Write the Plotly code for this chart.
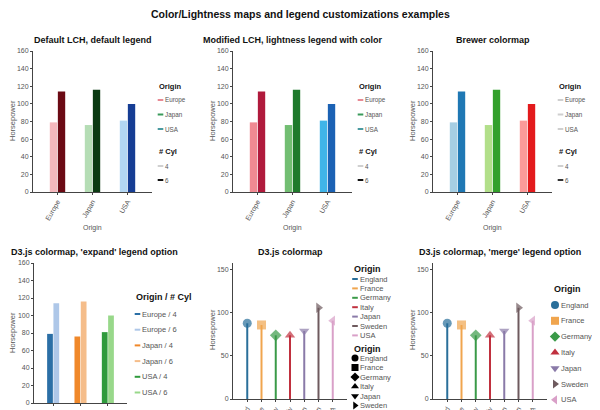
import plotly.graph_objects as go

# ---------------- data ----------------
origins = ["Europe", "Japan", "USA"]
hp_cyl4 = [79, 76, 81]
hp_cyl6 = [114, 116, 100]
cyl_labels = ["4", "6"]
countries = ["England", "France", "Germany", "Italy", "Japan", "Sweden", "USA"]
hp_country = [88, 86, 74, 74, 79, 106, 91]

panel_titles = ["Default LCH, default legend",
                "Modified LCH, lightness legend with color",
                "Brewer colormap",
                "D3.js colormap, 'expand' legend option",
                "D3.js colormap",
                "D3.js colormap, 'merge' legend option"]
main_title = "Color/Lightness maps and legend customizations examples"

# ---------------- styles ----------------
W, H = 600, 410
OFF = 8  # page body margin: screenshot px = figure px + OFF
FONT = "Liberation Sans, Arial, sans-serif"
TICK = "#555555"
AXC = "#444444"

top_cols4 = [["#f4b8bd", "#b5ddb5", "#b3d6f2"],
             ["#f08a92", "#72be72", "#3fb4e8"],
             ["#a6cee3", "#b2df8a", "#fb9a99"]]
top_cols6 = [["#6b0a14", "#0b3a12", "#163d94"],
             ["#b01a3c", "#1f7a2c", "#1b62b4"],
             ["#1f78b4", "#33a02c", "#e31a1c"]]
top_leg_origin = [["#e88a94", "#3a9a5a", "#4a9aa0"],
                  ["#e88a94", "#3a9a5a", "#4a9aa0"],
                  ["#cfcfcf", "#cfcfcf", "#cfcfcf"]]
top_leg_cyl = [["#d0d0d0", "#111111"], ["#d0d0d0", "#111111"], ["#d0d0d0", "#333333"]]

d3_cols4 = ["#2b6fa6", "#f0882a", "#2f9a3c"]
d3_cols6 = ["#aec7e8", "#f5bd8a", "#98d88a"]
country_cols = ["#2a6f9a", "#f0a54e", "#3a9a48", "#c0303e", "#8a7aa8", "#6e5a5e", "#d9a0c8"]
country_syms = ["circle", "square", "diamond", "triangle-up", "triangle-down",
                "triangle-right", "triangle-left"]


def xd(a, b):
    return [(a - OFF) / W, (b - OFF) / W]


def yd(top, bottom):
    return [1 - (bottom - OFF) / H, 1 - (top - OFF) / H]


fig = go.Figure()
layout = dict(width=W, height=H, margin=dict(l=0, r=0, t=0, b=0, pad=0, autoexpand=False),
              paper_bgcolor="white", plot_bgcolor="rgba(0,0,0,0)",
              showlegend=False, font=dict(family=FONT, color=TICK))
annotations = []


def axis_style(**kw):
    d = dict(showline=True, linecolor=AXC, linewidth=1, ticks="outside",
             ticklen=2, tickcolor=AXC, showgrid=False, zeroline=False,
             tickfont=dict(size=7, color=TICK), fixedrange=True, automargin=False)
    d.update(kw)
    return d


def txt(x, y, s, size, bold=False, color=TICK, anchor="left", angle=0):
    annotations.append(dict(x=x, y=y, xref="x7", yref="y7", text=("<b>%s</b>" % s) if bold else s,
                            showarrow=False, xanchor=anchor, yanchor="middle",
                            textangle=angle, font=dict(size=size, color=color, family=FONT)))


# main title
txt(300, 14, main_title, 10.5, bold=True, color="#111", anchor="center")

# ---------------- top row: three bar panels ----------------
for k in range(3):
    dx = 200 * k
    ax = k + 1
    xa = "x" if ax == 1 else "x%d" % ax
    ya = "y" if ax == 1 else "y%d" % ax
    fig.add_trace(go.Bar(x=origins, y=hp_cyl4, width=0.21, offset=-0.22,
                         marker=dict(color=top_cols4[k], line=dict(width=0)),
                         xaxis=xa, yaxis=ya))
    fig.add_trace(go.Bar(x=origins, y=hp_cyl6, width=0.21, offset=0.01,
                         marker=dict(color=top_cols6[k], line=dict(width=0)),
                         xaxis=xa, yaxis=ya))
    xk = "xaxis" if ax == 1 else "xaxis%d" % ax
    yk = "yaxis" if ax == 1 else "yaxis%d" % ax
    layout[xk] = axis_style(domain=xd(33 + dx, 152 + dx), range=[-0.7, 2.7],
                            anchor=ya, tickangle=-60, categoryorder="array",
                            categoryarray=origins)
    layout[yk] = axis_style(domain=yd(51, 192), range=[0, 160], dtick=20,
                            anchor=xa)
    txt(93 + dx, 40, panel_titles[k], 9, bold=True, color="#111", anchor="center")
    txt(12 + dx, 121, "Horsepower", 7.5, angle=-90, anchor="center")
    txt(92.5 + dx, 228, "Origin", 7, anchor="center")
    # legend
    txt(157 + dx, 86, "Origin", 7.5, bold=True, color="#111")
    oy = [100, 114.5, 129]
    cy = [166, 180]
    fig.add_trace(go.Scatter(x=[160.5 + dx] * 5, y=oy + cy, mode="markers",
                             marker=dict(symbol="line-ew", size=4,
                                         line=dict(width=2, color=top_leg_origin[k] + top_leg_cyl[k])),
                             xaxis="x7", yaxis="y7", hoverinfo="skip"))
    for i, o in enumerate(origins):
        txt(163 + dx, oy[i], o, 6.3)
    txt(157 + dx, 151, "# Cyl", 7.5, bold=True, color="#111")
    for i, c in enumerate(cyl_labels):
        txt(163 + dx, cy[i], c, 6.3)

# ---------------- bottom left: expand legend bars ----------------
fig.add_trace(go.Bar(x=origins, y=hp_cyl4, width=0.21, offset=-0.22,
                     marker=dict(color=d3_cols4, line=dict(width=0)),
                     xaxis="x4", yaxis="y4"))
fig.add_trace(go.Bar(x=origins, y=hp_cyl6, width=0.21, offset=0.01,
                     marker=dict(color=d3_cols6, line=dict(width=0)),
                     xaxis="x4", yaxis="y4"))
layout["xaxis4"] = axis_style(domain=xd(34, 127), range=[-0.7, 2.7], anchor="y4",
                              tickangle=-60, categoryorder="array", categoryarray=origins)
layout["yaxis4"] = axis_style(domain=yd(263, 403), range=[0, 160], dtick=20, anchor="x4")
txt(9, 252, panel_titles[3], 9, bold=True, color="#111", anchor="left")
txt(12, 333, "Horsepower", 7.5, angle=-90, anchor="center")
txt(134, 297, "Origin / # Cyl", 9, bold=True, color="#111")
ey = [314 + 15.7 * i for i in range(6)]
exp_labels = []
exp_cols = []
for i, o in enumerate(origins):
    for j, c in enumerate(cyl_labels):
        exp_labels.append("%s / %s" % (o, c))
        exp_cols.append(d3_cols4[i] if j == 0 else d3_cols6[i])
fig.add_trace(go.Scatter(x=[137.5] * 6, y=ey, mode="markers",
                         marker=dict(symbol="line-ew", size=4, line=dict(width=2, color=exp_cols)),
                         xaxis="x7", yaxis="y7", hoverinfo="skip"))
for i, s in enumerate(exp_labels):
    txt(140, ey[i], s, 7.5)

# ---------------- bottom middle & right: stem plots ----------------
for ax, dx in [(5, 200), (6, 400)]:
    xa, ya = "x%d" % ax, "y%d" % ax
    for i, c in enumerate(countries):
        fig.add_trace(go.Scatter(x=[c, c], y=[0, hp_country[i]], mode="lines+markers",
                                 line=dict(color=country_cols[i], width=2),
                                 marker=dict(symbol=country_syms[i], size=[0, 9],
                                             color=country_cols[i], line=dict(width=0)),
                                 xaxis=xa, yaxis=ya, hoverinfo="skip"))
    layout["xaxis%d" % ax] = axis_style(domain=xd(33 + dx, 147 + dx), range=[-1, 7], anchor=ya,
                                        tickangle=-60, categoryorder="array",
                                        categoryarray=countries)
    layout["yaxis%d" % ax] = axis_style(domain=yd(263, 399), range=[0, 158], dtick=50,
                                        anchor=xa)
    txt(12 + dx, 330, "Horsepower", 7.5, angle=-90, anchor="center")

txt(290, 252, panel_titles[4], 9, bold=True, color="#111", anchor="center")
txt(500, 252, panel_titles[5], 9, bold=True, color="#111", anchor="center")

# legend panel 5 (colour + shape separately)
l1 = [279 + 9.4 * i for i in range(7)]
l2 = [358 + 9.5 * i for i in range(7)]
txt(352, 269, "Origin", 9, bold=True, color="#111")
fig.add_trace(go.Scatter(x=[355] * 7, y=l1, mode="markers",
                         marker=dict(symbol="line-ew", size=4, line=dict(width=2, color=country_cols)),
                         xaxis="x7", yaxis="y7", hoverinfo="skip"))
txt(352, 349, "Origin", 9, bold=True, color="#111")
fig.add_trace(go.Scatter(x=[355] * 7, y=l2, mode="markers",
                         marker=dict(symbol=country_syms, size=7, color="black"),
                         xaxis="x7", yaxis="y7", hoverinfo="skip"))
for i, c in enumerate(countries):
    txt(358, l1[i], c, 7.5)
    txt(358, l2[i], c, 7.5)

# legend panel 6 (merged)
l3 = [305 + 15.8 * i for i in range(7)]
txt(552, 289, "Origin", 9, bold=True, color="#111")
fig.add_trace(go.Scatter(x=[555] * 7, y=l3, mode="markers",
                         marker=dict(symbol=country_syms, size=8, color=country_cols),
                         xaxis="x7", yaxis="y7", hoverinfo="skip"))
for i, c in enumerate(countries):
    txt(559, l3[i], c, 7.5)

# overlay axes in screenshot pixel units, for legends and text
layout["xaxis7"] = dict(domain=[0, 1], range=[OFF, W + OFF], visible=False,
                        fixedrange=True, anchor="y7")
layout["yaxis7"] = dict(domain=[0, 1], range=[H + OFF, OFF], visible=False,
                        fixedrange=True, anchor="x7")
layout["annotations"] = annotations

fig.update_layout(**layout)
fig.write_html("out.html")
